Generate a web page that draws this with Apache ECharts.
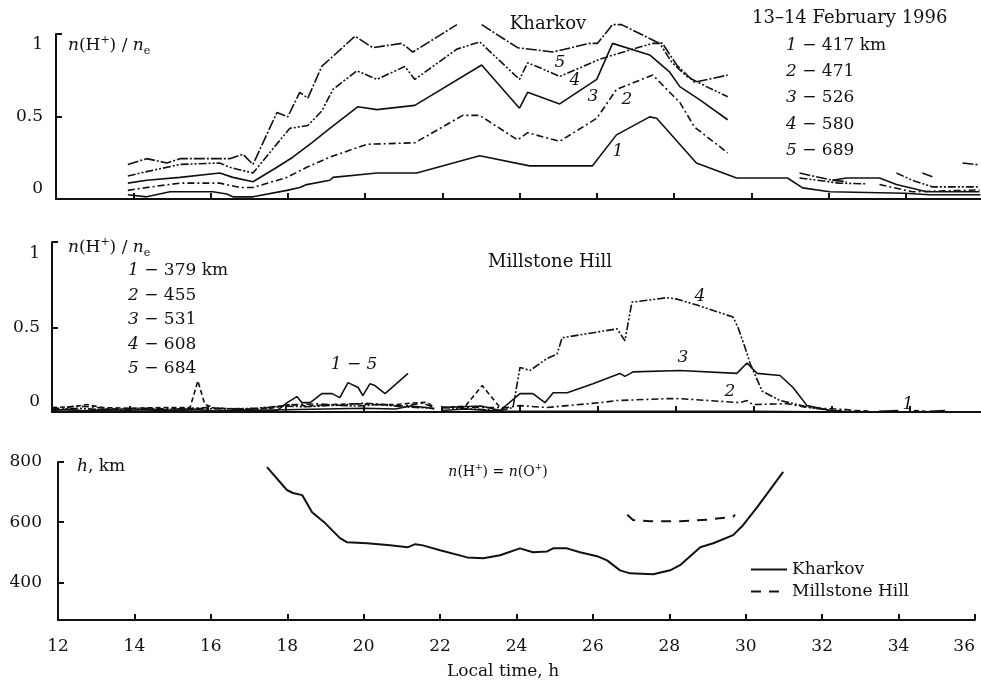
<!DOCTYPE html>
<html>
<head>
<meta charset="utf-8">
<script src="https://cdn.jsdelivr.net/npm/echarts@6/dist/echarts.min.js"></script>
<style>
  html, body { margin: 0; padding: 0; background: #fff; }
  #chart { width: 981px; height: 686px; }
</style>
</head>
<body>
<div id="chart"></div>
<script>
// Kharkov, n(H+)/ne, local time in hours
const kh1 = [[13.86,-0.04],[14.35,-0.055],[14.95,-0.02],[16.06,-0.02],[16.42,-0.035],[16.58,-0.055],[17.1,-0.055],[17.98,-0.01],[18.31,0.01],[18.49,0.03],[19.09,0.06],[19.17,0.08],[20.31,0.11],[21.34,0.11],[22.97,0.23],[24.26,0.16],[25.89,0.16],[26.51,0.375],[27.37,0.5],[27.55,0.49],[28.58,0.18],[29.62,0.076],[30.94,0.076],[31.33,0.007],[32.03,-0.02],[33.97,-0.03],[34.61,-0.04],[35.93,-0.04]];
const kh2 = [[13.86,-0.01],[14.35,0.01],[15.21,0.04],[16.24,0.04],[16.76,0.01],[17.1,0.01],[17.98,0.08],[18.49,0.15],[19.09,0.22],[20.05,0.31],[21.29,0.32],[22.53,0.51],[22.97,0.51],[23.95,0.34],[24.21,0.39],[25.04,0.33],[26.0,0.49],[26.51,0.69],[27.45,0.79],[28.15,0.6],[28.53,0.43],[29.39,0.25],[31,null],[33.32,0.03],[34.17,-0.02],[35.91,-0.007]];
const kh3 = [[13.86,0.04],[14.35,0.06],[15.21,0.08],[16.24,0.11],[16.58,0.08],[17.1,0.05],[17.72,0.15],[18.13,0.22],[18.62,0.32],[19.09,0.42],[19.81,0.57],[20.31,0.55],[21.29,0.58],[23.02,0.86],[24.0,0.56],[24.21,0.67],[25.04,0.59],[26.0,0.76],[26.41,1.01],[27.37,0.93],[27.89,0.81],[28.15,0.71],[28.66,0.62],[29.39,0.48],[31,null],[32.1,0.06],[32.47,0.076],[33.32,0.076],[33.76,0.03],[34.54,-0.02],[35.91,-0.02]];
const kh4 = [[13.86,0.09],[14.35,0.12],[15.21,0.17],[16.24,0.18],[16.5,0.15],[17.1,0.11],[18.05,0.42],[18.52,0.44],[18.88,0.54],[19.17,0.69],[19.79,0.82],[20.31,0.76],[21.03,0.85],[21.29,0.76],[22.38,0.97],[22.97,1.02],[24.0,0.76],[24.21,0.875],[24.45,0.85],[25.04,0.78],[26.08,0.9],[26.93,0.97],[27.45,1.01],[27.63,1.01],[27.94,0.88],[28.33,0.78],[28.84,0.71],[29.39,0.64],[30.5,null],[31.25,0.076],[32.28,0.04],[33.0,0.035],[33.4,null],[33.76,0.11],[34.17,0.06],[34.69,0.014],[35.91,0.014]];
const kh5 = [[13.86,0.17],[14.35,0.21],[14.87,0.18],[15.21,0.21],[16.5,0.21],[16.84,0.24],[17.1,0.17],[17.72,0.53],[18.0,0.5],[18.31,0.67],[18.52,0.63],[18.88,0.85],[19.17,0.92],[19.74,1.06],[20.2,0.98],[20.95,1.01],[21.24,0.95],[22.38,1.14],[22.7,null],[23.02,1.14],[23.95,0.98],[24.86,0.95],[25.82,1.01],[26.02,1.01],[26.41,1.14],[26.64,1.14],[27.55,1.02],[27.7,1.01],[28.07,0.86],[28.53,0.74],[29.39,0.79],[30.5,null],[31.25,0.11],[32.1,0.06],[32.47,0.05],[33.5,null],[34.43,0.11],[34.69,0.085],[35.0,null],[35.47,0.18],[35.91,0.167]];

// Millstone Hill, n(H+)/ne
const ms1 = [[12.0,-0.06],[12.4,-0.05],[12.9,-0.065],[13.4,-0.05],[13.9,-0.06],[14.5,-0.05],[15.1,-0.06],[15.6,-0.05],[16.2,-0.065],[16.8,-0.055],[17.4,-0.06],[17.77,-0.06],[18.03,-0.007],[18.28,0.034],[18.41,-0.007],[18.62,-0.007],[18.92,0.054],[19.18,0.054],[19.38,0.027],[19.59,0.128],[19.85,0.095],[19.97,0.04],[20.15,0.12],[20.28,0.108],[20.54,0.054],[21.13,0.19],[21.5,null],[22.0,-0.06],[22.6,-0.05],[23.2,-0.06],[23.7,-0.065],[24.5,-0.065],[26,-0.065],[28,-0.065],[30,-0.065],[31.5,-0.068],[32.4,-0.07],[32.8,null],[33.2,-0.065],[33.7,-0.06],[34.1,null],[34.5,-0.065],[34.9,-0.06]];
const ms2 = [[12.0,-0.05],[12.6,-0.03],[13.0,-0.035],[13.5,-0.05],[14.3,-0.045],[15.3,-0.05],[16.0,-0.04],[17.0,-0.055],[17.6,-0.04],[18.2,-0.02],[18.8,-0.015],[19.4,-0.025],[20.0,-0.01],[20.5,-0.02],[21.0,-0.03],[21.5,-0.01],[21.8,-0.04],[21.9,null],[22.0,-0.04],[23.67,-0.04],[24.0,-0.027],[24.69,-0.04],[25.21,-0.027],[26.05,-0.007],[26.49,0.007],[27.77,0.02],[28.1,0.02],[29.64,-0.007],[29.82,0.007],[29.97,-0.02],[30.85,-0.014],[31.36,-0.04],[32.38,-0.054],[32.8,-0.07]];
const ms3 = [[12.0,-0.065],[13.0,-0.06],[14.0,-0.065],[15.0,-0.06],[16.0,-0.065],[17.0,-0.06],[18.0,-0.055],[19.0,-0.05],[20.0,-0.045],[20.8,-0.05],[21.2,-0.03],[21.6,-0.04],[21.8,-0.05],[21.9,null],[22.0,-0.04],[23.0,-0.03],[23.49,-0.06],[24.0,0.054],[24.33,0.054],[24.64,-0.007],[24.85,0.06],[25.21,0.06],[25.87,0.12],[26.56,0.19],[26.69,0.17],[26.9,0.2],[28.1,0.21],[29.56,0.19],[29.82,0.26],[30.08,0.19],[30.67,0.176],[31.0,0.095],[31.36,-0.027],[31.95,-0.06],[32.38,-0.07]];
const ms4 = [[12.0,-0.055],[12.7,-0.045],[13.3,-0.055],[14.0,-0.05],[14.8,-0.055],[15.5,-0.045],[16.3,-0.05],[17.2,-0.045],[17.9,-0.03],[18.5,-0.035],[19.2,-0.025],[19.8,-0.03],[20.4,-0.02],[21.0,-0.035],[21.8,-0.045],[21.9,null],[22.0,-0.04],[23.49,-0.06],[23.82,-0.04],[24.0,0.23],[24.26,0.21],[24.69,0.29],[24.95,0.32],[25.08,0.43],[26.49,0.49],[26.69,0.41],[26.87,0.67],[27.77,0.7],[28.03,0.69],[28.54,0.65],[29.46,0.57],[29.59,0.5],[29.77,0.365],[29.9,0.257],[30.21,0.07],[30.67,0.007],[31.44,-0.04],[32.03,-0.06],[32.8,-0.07]];
const ms5 = [[12.0,-0.04],[12.5,-0.035],[12.9,-0.02],[13.3,-0.04],[14.0,-0.045],[14.8,-0.04],[15.54,-0.04],[15.74,0.14],[15.92,-0.02],[16.2,-0.045],[17.0,-0.05],[17.6,-0.045],[18.1,-0.02],[18.6,-0.03],[19.2,-0.02],[19.8,-0.015],[20.3,-0.02],[20.8,-0.02],[21.2,-0.01],[21.62,-0.005],[21.8,-0.04],[21.9,null],[22.0,-0.04],[22.6,-0.03],[23.03,0.108],[23.49,-0.04],[23.7,-0.06],[28,null],[32.6,-0.06],[33.0,-0.065],[33.5,null],[34.1,-0.06],[34.4,-0.065]];

// height where n(H+) = n(O+), km
const khHeight = [[17.47,783],[17.99,707],[18.15,697],[18.39,690],[18.65,633],[18.99,597],[19.38,547],[19.57,533],[20.09,530],[20.69,523],[21.16,517],[21.35,527],[21.55,523],[22.0,507],[22.71,483],[23.13,480],[23.57,490],[24.09,513],[24.43,500],[24.8,503],[24.96,513],[25.32,513],[25.66,500],[26.11,487],[26.37,473],[26.71,440],[26.97,430],[27.58,427],[28.02,440],[28.28,457],[28.81,517],[29.15,530],[29.67,557],[29.93,590],[30.3,650],[30.98,767]];
const msHeight = [[26.9,625],[27.05,607],[27.5,603],[28.28,603],[29.0,608],[29.25,612],[29.67,618],[29.72,625]];

const khAlt = ['417 km', '471', '526', '580', '689'];
const msAlt = ['379 km', '455', '531', '608', '684'];

const FONT = 'DejaVu Serif';
const INK = '#111';
const chart = echarts.init(document.getElementById('chart'));

const rich = {
  i: { fontFamily: FONT, fontStyle: 'italic', fontSize: 17, lineHeight: 22, fill: INK },
  r: { fontFamily: FONT, fontSize: 17, lineHeight: 22, fill: INK },
  sup: { fontFamily: FONT, fontSize: 11, lineHeight: 11, verticalAlign: 'top', fill: INK },
  sub: { fontFamily: FONT, fontSize: 11, lineHeight: 11, verticalAlign: 'bottom', fill: INK },
  i2: { fontFamily: FONT, fontStyle: 'italic', fontSize: 14, lineHeight: 18, fill: INK },
  r2: { fontFamily: FONT, fontSize: 14, lineHeight: 18, fill: INK },
  sup2: { fontFamily: FONT, fontSize: 9, lineHeight: 9, verticalAlign: 'top', fill: INK }
};

function txt(x, y, text, align, size) {
  return {
    type: 'text', x: x, y: y, silent: true,
    style: {
      text: text, rich: rich, fill: INK,
      fontFamily: FONT, fontSize: size || 17,
      align: align || 'left', verticalAlign: 'middle'
    }
  };
}

const ratioLabel = '{i|n}{r|(H}{sup|+}{r|) / }{i|n}{sub|e}';
const graphics = [
  txt(68, 46, ratioLabel),
  txt(68, 248, ratioLabel),
  txt(548, 24, 'Kharkov', 'center', 18),
  txt(752, 18, '13–14 February 1996', 'left', 18),
  txt(550, 262, 'Millstone Hill', 'center', 18),
  txt(77, 467, '{i|h}{r|, km}'),
  txt(498, 472, '{i2|n}{r2|(H}{sup2|+}{r2|) = }{i2|n}{r2|(O}{sup2|+}{r2|)}', 'center'),
  txt(503, 672, 'Local time, h', 'center'),
  // curve numbers, Kharkov
  txt(560, 63, '{i|5}', 'center'),
  txt(575, 81, '{i|4}', 'center'),
  txt(593, 97, '{i|3}', 'center'),
  txt(627, 100, '{i|2}', 'center'),
  txt(618, 152, '{i|1}', 'center'),
  // curve numbers, Millstone Hill
  txt(354, 365, '{i|1 − 5}', 'center'),
  txt(700, 297, '{i|4}', 'center'),
  txt(683, 358, '{i|3}', 'center'),
  txt(730, 392, '{i|2}', 'center'),
  txt(908, 405, '{i|1}', 'center')
];
const khRows = [46, 72, 98, 125, 151];
khAlt.forEach((a, k) => graphics.push(txt(786, khRows[k], '{i|' + (k + 1) + '}{r| − ' + a + '}')));
const msRows = [271, 296, 320, 345, 369];
msAlt.forEach((a, k) => graphics.push(txt(128, msRows[k], '{i|' + (k + 1) + '}{r| − ' + a + '}')));

const axisLine = { show: true, onZero: false, lineStyle: { color: INK, width: 2 } };
const tick = (vals) => ({ show: true, inside: true, length: 6, lineStyle: { color: INK, width: 2 }, customValues: vals });
const labelStyle = { color: INK, fontFamily: FONT, fontSize: 17 };

function xAxis(idx, showLabels) {
  return {
    type: 'value', gridIndex: idx, min: 12, max: 36, interval: 2,
    axisLine: axisLine,
    axisTick: { show: true, inside: true, length: 6, lineStyle: { color: INK, width: 2 } },
    axisLabel: showLabels ? Object.assign({ margin: 18, alignMaxLabel: 'right' }, labelStyle) : { show: false },
    splitLine: { show: false }
  };
}

function ratioY(idx, margin) {
  return {
    type: 'value', gridIndex: idx, min: -0.07, max: 1.075,
    axisLine: axisLine,
    axisTick: tick([0.5, 1.075]),
    axisLabel: Object.assign({ margin: margin, customValues: [0, 0.5, 1] }, labelStyle),
    splitLine: { show: false }
  };
}

function line(name, data, xi, dash, width) {
  return {
    name: name, type: 'line', xAxisIndex: xi, yAxisIndex: xi, data: data,
    symbol: 'none', clip: false, connectNulls: false, silent: true,
    lineStyle: { color: INK, width: width || 1.6, type: dash || 'solid' },
    itemStyle: { color: INK }
  };
}

const dashDot = [7, 3, 2, 3];
const dashDotDot = [8, 2, 2, 2, 2, 2];
const longDashDot = [11, 2, 2, 2];

const option = {
  animation: false,
  backgroundColor: '#fff',
  grid: [
    { left: 56, right: -2, top: 34, height: 165, outerBoundsMode: 'none' },
    { left: 52, right: -7, top: 242, height: 170, outerBoundsMode: 'none' },
    { left: 58, right: 6, top: 462, height: 158, outerBoundsMode: 'none' }
  ],
  xAxis: [xAxis(0, false), xAxis(1, false), xAxis(2, true)],
  yAxis: [
    ratioY(0, 13),
    ratioY(1, 12),
    {
      type: 'value', gridIndex: 2, min: 275, max: 800,
      axisLine: axisLine,
      axisTick: tick([400, 600, 800]),
      axisLabel: Object.assign({ margin: 16, customValues: [400, 600, 800] }, labelStyle),
      splitLine: { show: false }
    }
  ],
  legend: {
    data: ['Kharkov', 'Millstone Hill'],
    orient: 'vertical', left: 745, top: 556,
    itemWidth: 36, itemHeight: 12, itemGap: 5,
    itemStyle: { opacity: 0 },
    textStyle: { color: INK, fontFamily: FONT, fontSize: 17 }
  },
  graphic: graphics,
  series: [
    line('k1', kh1, 0), line('k2', kh2, 0, dashDot), line('k3', kh3, 0),
    line('k4', kh4, 0, dashDotDot), line('k5', kh5, 0, longDashDot),
    line('m1', ms1, 1), line('m2', ms2, 1, dashDot), line('m3', ms3, 1),
    line('m4', ms4, 1, dashDotDot), line('m5', ms5, 1, [5, 3]),
    line('Kharkov', khHeight, 2, 'solid', 2),
    line('Millstone Hill', msHeight, 2, [10, 8], 2)
  ]
};

chart.setOption(option);
</script>
</body>
</html>
